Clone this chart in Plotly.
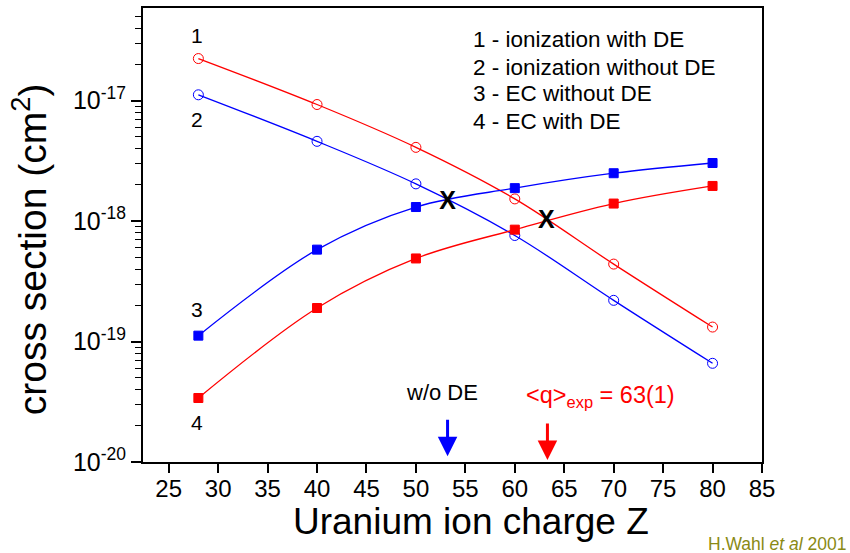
import plotly.graph_objects as go

# ---- data ----
Z = [28, 40, 50, 60, 70, 80]
ion_with_DE = [2.24e-17, 9.3e-18, 4.1e-18, 1.53e-18, 4.4e-19, 1.32e-19]      # curve 1
ion_without_DE = [1.12e-17, 4.6e-18, 2.04e-18, 7.6e-19, 2.2e-19, 6.6e-20]   # curve 2
ec_without_DE = [1.12e-19, 5.8e-19, 1.31e-18, 1.88e-18, 2.5e-18, 3.04e-18]  # curve 3
ec_with_DE = [3.4e-20, 1.9e-19, 4.9e-19, 8.5e-19, 1.4e-18, 1.96e-18]       # curve 4

cross_Z = [53.2, 63.2]
cross_sigma = [1.43e-18, 9.9e-19]

arrow_Z = [53.2, 63.3]

legend_lines = ["1 - ionization with DE", "2 - ionization without DE",
                "3 - EC without DE", "4 - EC with DE"]

x_ticks = [25, 30, 35, 40, 45, 50, 55, 60, 65, 70, 75, 80, 85]
y_decades = [-20, -19, -18, -17]

RED = "#ff0000"
BLUE = "#0000ff"
FONT = "Liberation Sans, Arial, sans-serif"

fig = go.Figure()

def curve(y, color, symbol, size):
    fig.add_trace(go.Scatter(
        x=Z, y=y, mode="lines+markers",
        line=dict(color=color, width=1.3, shape="spline", smoothing=1.0),
        marker=dict(symbol=symbol, size=size, color=color,
                    line=dict(color=color, width=1)),
        showlegend=False, hoverinfo="skip"))

curve(ion_with_DE, RED, "circle-open", 10)
curve(ion_without_DE, BLUE, "circle-open", 10)
curve(ec_without_DE, BLUE, "square", 9)
curve(ec_with_DE, RED, "square", 9)

fig.add_trace(go.Scatter(
    x=cross_Z, y=cross_sigma, mode="text", text=["X", "X"],
    textfont=dict(family=FONT, size=25, color="black", weight="bold"),
    showlegend=False, hoverinfo="skip"))

ann = []
# curve number labels
for txt, yl in zip(["1", "2", "3", "4"], [-16.46, -17.155, -18.73, -19.67]):
    ann.append(dict(x=27.9, y=yl, text=txt, showarrow=False,
                    font=dict(family=FONT, size=21, color="black")))
# legend block
for txt, yl in zip(legend_lines, [-16.494, -16.722, -16.944, -17.175]):
    ann.append(dict(x=55.6, y=yl, text=txt, showarrow=False, xanchor="left",
                    font=dict(family=FONT, size=22.5, color="black")))
# arrows
for zx, yl, col in zip(arrow_Z, [-19.953, -19.983], [BLUE, RED]):
    ann.append(dict(x=zx, y=yl, text="", showarrow=True, ax=0, ay=-38,
                    arrowhead=2, arrowsize=1.3, arrowwidth=3, arrowcolor=col))
ann.append(dict(x=48.8, y=-19.42, text="w/o DE", showarrow=False, xanchor="left",
                font=dict(family=FONT, size=22, color="black")))
ann.append(dict(x=60.9, y=-19.46, text="&lt;q&gt;<sub>exp</sub> = 63(1)", showarrow=False,
                xanchor="left", font=dict(family=FONT, size=23.5, color=RED)))
# axis titles
ann.append(dict(xref="paper", yref="paper", x=0.53, y=-0.13, yanchor="middle",
                text="Uranium ion charge Z",
                showarrow=False, font=dict(family=FONT, size=37, color="black")))
ann.append(dict(xref="paper", yref="paper", x=-0.184, y=0.469, xanchor="center",
                text="cross section (cm<sup>2</sup>)",
                textangle=-90, showarrow=False, font=dict(family=FONT, size=39, color="black")))
# credit
ann.append(dict(xref="paper", yref="paper", x=0.909, y=-0.18, xanchor="left", yanchor="middle",
                text="H.Wahl <i>et al</i> 2001", showarrow=False,
                font=dict(family=FONT, size=17.5, color="#8a8a14")))

minor_vals = [k * 10.0 ** e for e in y_decades[:-1] + [-17] for k in range(2, 10)]

fig.update_layout(
    width=850, height=553,
    margin=dict(l=143, r=88, t=6, b=91),
    paper_bgcolor="white", plot_bgcolor="white",
    annotations=ann,
    xaxis=dict(range=[22.4, 85], tickvals=x_ticks, ticks="outside", ticklen=9,
               tickwidth=1.5, tickcolor="black", showline=True, linecolor="black",
               linewidth=2, mirror=True, showgrid=False, zeroline=False,
               ticklabelstandoff=-5,
               tickfont=dict(family=FONT, size=24, color="black")),
    yaxis=dict(type="log", range=[-20, -16.23],
               tickvals=[10.0 ** e for e in y_decades],
               ticktext=["10<sup>%d</sup>" % e for e in y_decades],
               ticks="outside", ticklen=10, tickwidth=1.5, tickcolor="black",
               showline=True, linecolor="black", linewidth=2, mirror=True,
               showgrid=False, zeroline=False,
               minor=dict(tickvals=minor_vals, ticks="outside", ticklen=6,
                          tickwidth=1, tickcolor="black", showgrid=False),
               tickfont=dict(family=FONT, size=25, color="black")),
)

fig.write_html("out.html")
